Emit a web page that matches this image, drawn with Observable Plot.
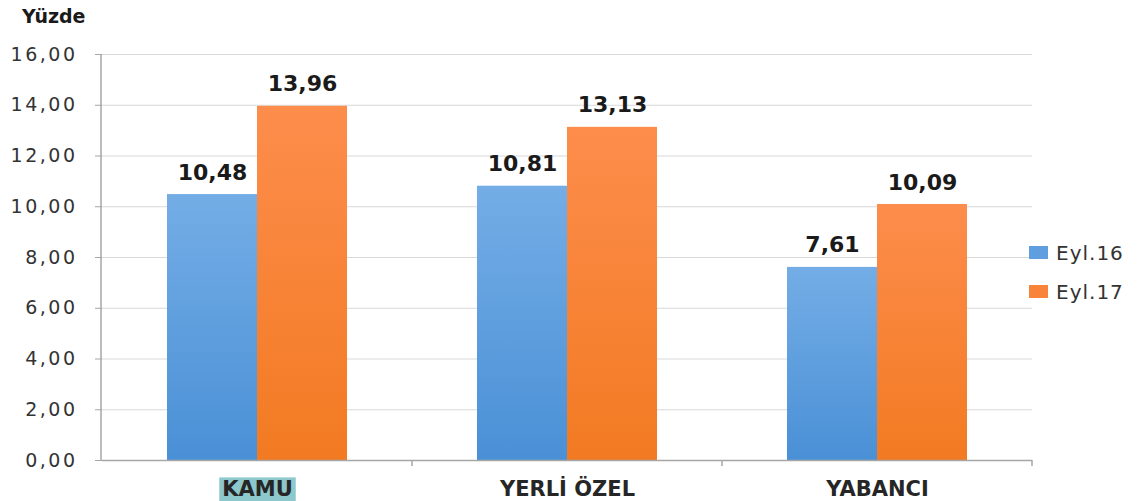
<!DOCTYPE html>
<html>
<head>
<meta charset="utf-8">
<script src="https://cdn.jsdelivr.net/npm/d3@7"></script>
<script src="https://cdn.jsdelivr.net/npm/@observablehq/plot@0.6"></script>
<style>
  html, body { margin: 0; padding: 0; background: #fff; }
  #wrap { position: relative; width: 1142px; height: 501px; font-family: "DejaVu Sans", sans-serif; }
  #unit { position: absolute; left: 22px; top: 5px; font-weight: bold; font-size: 19px; color: #1a1a1a; }
  #legend { position: absolute; left: 1029px; top: 233px; font-size: 20px; color: #333; letter-spacing: 1px; }
  .item { display: flex; align-items: center; height: 39px; }
  .sw { width: 19px; height: 13px; margin-right: 8px; }
</style>
</head>
<body>
<div id="wrap">
  <div id="unit">Yüzde</div>
  <div id="legend"></div>
</div>
<script>
// Kategoriler, seriler ve değerler
const groups = ["KAMU", "YERLİ ÖZEL", "YABANCI"];
const seriesNames = ["Eyl.16", "Eyl.17"];
const eyl16 = [10.48, 10.81, 7.61];
const eyl17 = [13.96, 13.13, 10.09];
const yTicks = [0, 2, 4, 6, 8, 10, 12, 14, 16];
const seriesColors = ["#5f9fe0", "#f8843a"];

const rows = groups.flatMap((g, i) => [
  {group: g, series: seriesNames[0], value: eyl16[i]},
  {group: g, series: seriesNames[1], value: eyl17[i]}
]);

const fmt = (v) => v.toFixed(2).replace(".", ",");

// Boundary ticks under the baseline, one at the right edge of every category
const boundaryTick = () => (index, scales) => {
  const x1 = scales.x.range()[1];
  const y0 = scales.y(0);
  const path = d3.create("svg:path")
    .attr("d", `M${x1},${y0}V${y0 + 6}`)
    .attr("stroke", "#a6a6a6")
    .attr("stroke-width", 1.5);
  return path.node();
};

const chart = Plot.plot({
  width: 1142,
  height: 501,
  marginLeft: 101,
  marginRight: 110,
  marginTop: 54,
  marginBottom: 41,
  style: {fontFamily: "DejaVu Sans, sans-serif", background: "transparent"},
  fx: {domain: groups, padding: 0, label: null},
  x: {domain: seriesNames, paddingInner: 0, paddingOuter: 0.707, axis: null},
  y: {domain: [0, 16], ticks: yTicks, label: null},
  color: {domain: seriesNames, range: ["url(#gBlue)", "url(#gOrange)"]},
  marks: [
    () => {
      const defs = d3.create("svg:defs");
      const mk = (id, top, bottom) => {
        const g = defs.append("linearGradient").attr("id", id)
          .attr("x1", 0).attr("y1", 0).attr("x2", 0).attr("y2", 1);
        g.append("stop").attr("offset", "0%").attr("stop-color", top);
        g.append("stop").attr("offset", "100%").attr("stop-color", bottom);
      };
      mk("gBlue", "#74ade6", "#4a90d6");
      mk("gOrange", "#fd8d4c", "#f27a22");
      return defs.node();
    },
    Plot.gridY(yTicks, {stroke: "#d9d9d9", strokeOpacity: 1, strokeWidth: 1}),
    Plot.barY(rows, {fx: "group", x: "series", y: "value", fill: "series"}),
    Plot.text(rows, {
      fx: "group", x: "series", y: "value", text: (d) => fmt(d.value),
      dy: -22, fontSize: 22, fontWeight: "bold", fill: "#1a1a1a"
    }),
    Plot.ruleY([0], {stroke: "#a6a6a6", strokeWidth: 1.5}),
    Plot.axisY(yTicks, {
      tickFormat: fmt, tickSize: 7, tickPadding: 18, fontSize: 19,
      stroke: "#a6a6a6", fill: "#333", label: null
    }),
    Plot.axisFx({anchor: "bottom", tickSize: 0, tickPadding: 21, fontSize: 21, fontWeight: "bold", fill: "#262626", label: null}),
    boundaryTick()
  ]
});

const wrap = document.getElementById("wrap");
wrap.insertBefore(chart, wrap.firstChild);
chart.style.position = "absolute";
chart.style.left = "0";
chart.style.top = "0";

const svg = d3.select(chart);
svg.selectAll("[aria-label='y-axis tick label'] text").style("letter-spacing", "2.5px");

// vertical axis line along the left edge
const ys = chart.scale("y");
svg.append("line")
  .attr("x1", 101).attr("x2", 101)
  .attr("y1", ys.apply(16)).attr("y2", ys.apply(0))
  .attr("stroke", "#a6a6a6").attr("stroke-width", 1.5);

// highlight behind the KAMU category label
svg.selectAll("[aria-label='fx-axis tick label'] text").each(function () {
  if (this.textContent === "KAMU") {
    const b = this.getBBox();
    const r = d3.select(this.parentNode).insert("rect", () => this)
      .attr("x", b.x - 3).attr("y", b.y)
      .attr("width", b.width + 6).attr("height", b.height + 2)
      .attr("fill", "#8cc8cc");
    if (this.getAttribute("transform")) r.attr("transform", this.getAttribute("transform"));
  }
});

// legend
const legend = d3.select("#legend");
seriesNames.forEach((s, i) => {
  const it = legend.append("div").attr("class", "item");
  it.append("div").attr("class", "sw").style("background", seriesColors[i]);
  it.append("span").text(s);
});
</script>
</body>
</html>
